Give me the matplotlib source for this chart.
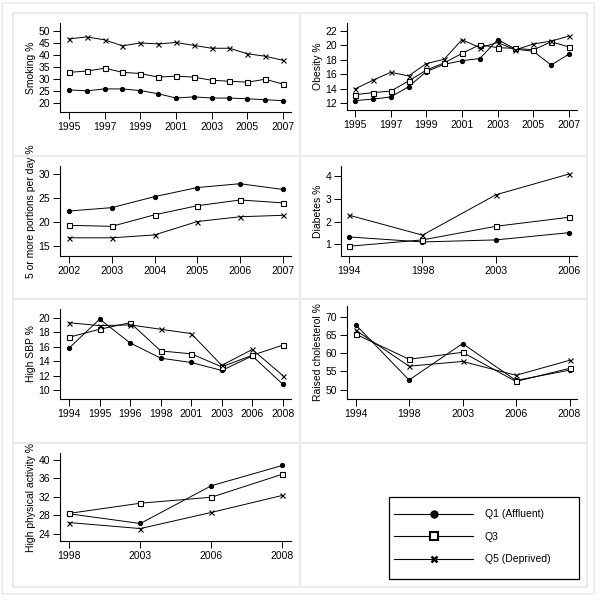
#!/usr/bin/env python3
"""
plot.py -- trends in risk factors by deprivation quintile (Q1, Q3, Q5).

seven small panels laid out 2 x 4 plus a legend box in the last slot.
x axes are categorical (survey years evenly spaced), as in the original.
"""
import matplotlib
matplotlib.use("Agg")
import matplotlib.pyplot as plt
from matplotlib.lines import Line2D
from matplotlib.patches import Rectangle

plt.rcParams["font.family"] = ["Liberation Sans", "DejaVu Sans"]
plt.rcParams["font.size"] = 7.5

# ---- data --------------------------------------------------------------
smoking_years = [1995, 1996, 1997, 1998, 1999, 2000, 2001, 2002, 2003, 2004, 2005, 2006, 2007]
smoking_q1 = [25.5, 25.1, 25.9, 25.9, 25.2, 23.9, 22.1, 22.6, 22.1, 22.1, 21.8, 21.4, 21.0]
smoking_q3 = [32.8, 33.3, 34.5, 32.8, 32.3, 30.8, 31.2, 30.8, 29.5, 29.1, 28.7, 29.9, 27.9]
smoking_q5 = [46.7, 47.5, 46.3, 43.8, 45.0, 44.6, 45.2, 44.0, 42.8, 42.8, 40.5, 39.5, 37.8]

obesity_years = [1995, 1996, 1997, 1998, 1999, 2000, 2001, 2002, 2003, 2004, 2005, 2006, 2007]
obesity_q1 = [12.4, 12.6, 12.9, 14.3, 16.4, 17.4, 17.9, 18.2, 20.8, 19.5, 19.2, 17.3, 18.8]
obesity_q3 = [13.2, 13.5, 13.7, 15.1, 16.6, 17.6, 18.9, 20.1, 19.7, 19.6, 19.4, 20.5, 19.8]
obesity_q5 = [14.0, 15.2, 16.3, 15.8, 17.5, 18.1, 20.8, 19.7, 20.4, 19.4, 20.2, 20.6, 21.3]

fruit_years = [2002, 2003, 2004, 2005, 2006, 2007]
fruit_q1 = [22.3, 23.0, 25.3, 27.2, 28.0, 26.8]
fruit_q3 = [19.3, 19.1, 21.5, 23.4, 24.6, 24.0]
fruit_q5 = [16.7, 16.7, 17.3, 20.1, 21.1, 21.4]

diabetes_years = [1994, 1998, 2003, 2006]
diabetes_q1 = [1.32, 1.10, 1.19, 1.51]
diabetes_q3 = [0.91, 1.19, 1.79, 2.19]
diabetes_q5 = [2.28, 1.40, 3.18, 4.10]

sbp_years = [1994, 1995, 1996, 1998, 2001, 2003, 2006, 2008]
sbp_q1 = [15.8, 19.8, 16.5, 14.4, 13.8, 12.7, 14.7, 10.8]
sbp_q3 = [17.3, 18.4, 19.3, 15.4, 15.0, 13.2, 14.8, 16.2]
sbp_q5 = [19.3, 18.9, 19.0, 18.4, 17.8, 13.4, 15.6, 12.0]

chol_years = [1994, 1998, 2003, 2006, 2008]
chol_q1 = [67.8, 52.6, 62.6, 52.5, 55.3]
chol_q3 = [65.2, 58.3, 60.2, 52.2, 55.8]
chol_q5 = [66.3, 56.4, 57.7, 53.9, 58.0]

pa_years = [1998, 2003, 2006, 2008]
pa_q1 = [28.3, 26.2, 34.4, 38.8]
pa_q3 = [28.4, 30.6, 31.9, 36.9]
pa_q5 = [26.4, 25.1, 28.6, 32.3]

group_labels = ["Q1 (Affluent)", "Q3", "Q5 (Deprived)"]

# ---- layout, in pixels of a 600x600 canvas -----------------------------
W = H = 600.0
GRID = "#ebebeb"

STYLE = [  # Q1, Q3, Q5
    dict(marker="o", ms=2.8, mfc="black", mec="black"),
    dict(marker="s", ms=3.6, mfc="white", mec="black", mew=0.8),
    dict(marker="x", ms=3.6, mec="black", mew=0.8),
]

# (years, series, ylabel, axes box l/r/t/b px, xlim pad, ylim, yticks, xtick step)
PANELS = [
    (smoking_years, (smoking_q1, smoking_q3, smoking_q5), "Smoking %",
     (60, 291, 23, 112), (-0.5, 0.45), (16.3, 53.3), range(20, 51, 5), 2),
    (obesity_years, (obesity_q1, obesity_q3, obesity_q5), "Obesity %",
     (347, 577, 23, 110), (-0.45, 0.45), (11.1, 23.1), range(12, 23, 2), 2),
    (fruit_years, (fruit_q1, fruit_q3, fruit_q5), "5 or more portions per day %",
     (60, 291, 166, 256), (-0.21, 0.19), (12.9, 31.7), range(15, 31, 5), 1),
    (diabetes_years, (diabetes_q1, diabetes_q3, diabetes_q5), "Diabetes %",
     (341, 577, 166, 256), (-0.11, 0.105), (0.48, 4.45), range(1, 5), 1),
    (sbp_years, (sbp_q1, sbp_q3, sbp_q5), "High SBP %",
     (60, 291, 309, 399), (-0.3, 0.27), (8.75, 21.2), range(10, 21, 2), 1),
    (chol_years, (chol_q1, chol_q3, chol_q5), "Raised cholesterol %",
     (347, 577, 306, 399), (-0.16, 0.14), (47.4, 72.9), range(50, 71, 5), 1),
    (pa_years, (pa_q1, pa_q3, pa_q5), "High physical activity %",
     (60, 291, 453, 541), (-0.13, 0.12), (22.4, 41.5), range(24, 41, 4), 1),
]

LEGEND_BOX = (389, 579, 497, 579)  # l, r, t, b


def fig_rect(l, r, t, b):
    return [l / W, 1 - b / H, (r - l) / W, (b - t) / H]


def draw_panel(fig, years, series, ylabel, box, xpad, ylim, yticks, step):
    ax = fig.add_axes(fig_rect(*box))
    ax.set_facecolor("none")
    x = list(range(len(years)))
    for vals, st in zip(series, STYLE):
        ax.plot(x, vals, color="black", lw=0.7, **st)
    ax.set_xlim(xpad[0], len(years) - 1 + xpad[1])
    ax.set_ylim(*ylim)
    ax.set_xticks(x[::step])
    ax.set_xticklabels([str(y) for y in years[::step]])
    ax.set_yticks(list(yticks))
    ax.set_ylabel(ylabel, labelpad=2)
    for side in ("top", "right"):
        ax.spines[side].set_visible(False)
    for side in ("left", "bottom"):
        ax.spines[side].set_linewidth(0.8)
    ax.tick_params(length=5, width=0.7, pad=2)
    return ax


def main():
    fig = plt.figure(figsize=(6, 6), dpi=100)

    # faint panel frames like the original graph export
    fig.add_artist(Rectangle((2 / W, 1 - 594 / H), 592 / W, 591 / H,
                             transform=fig.transFigure, fill=False,
                             ec=GRID, lw=1.2, zorder=0))
    for l, r in ((13, 300), (300, 587)):
        for t, b in ((13, 156), (156, 299), (299, 443), (443, 587)):
            fig.add_artist(Rectangle((l / W, 1 - b / H), (r - l) / W, (b - t) / H,
                                     transform=fig.transFigure, fill=False,
                                     ec=GRID, lw=1.5, zorder=0))

    for p in PANELS:
        draw_panel(fig, *p)

    # legend: own black frame, entries placed inside it
    l, r, t, b = LEGEND_BOX
    fig.add_artist(Rectangle((l / W, 1 - b / H), (r - l) / W, (b - t) / H,
                             transform=fig.transFigure, fill=False,
                             ec="black", lw=0.9, zorder=1))
    handles = [
        Line2D([], [], color="black", lw=0.8, marker="o", ms=5, mfc="black", mec="black"),
        Line2D([], [], color="black", lw=0.8, marker="s", ms=6, mfc="white", mec="black", mew=1.5),
        Line2D([], [], color="black", lw=0.8, marker="x", ms=4, mec="black", mew=1.8),
    ]
    fig.legend(handles, group_labels, loc="upper left",
               bbox_to_anchor=((l + 1) / W, 1 - (t + 8) / H),
               frameon=False, handlelength=7.6, handletextpad=1.1,
               labelspacing=1.2, fontsize=7.5, borderaxespad=0)

    fig.savefig("out.png", dpi=100)
    plt.close(fig)


if __name__ == "__main__":
    main()
